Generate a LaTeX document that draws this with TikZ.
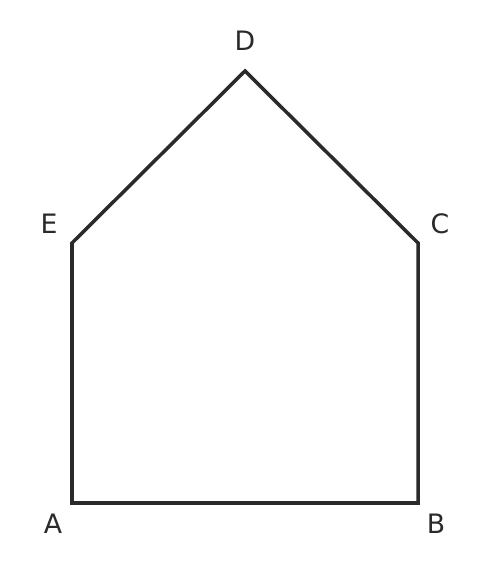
\documentclass[tikz,border=0pt]{standalone}
\usepackage{fontspec}
\setmainfont{DejaVu Sans}
\usepackage{xcolor}
\usepackage{tikz}
\definecolor{edgegray}{HTML}{2A2A2A}

\begin{document}
\begin{tikzpicture}[label/.style={text=edgegray, font=\fontsize{7.6}{9}\selectfont, inner sep=0pt}]
\useasboundingbox (0,0) rectangle (4.89,5.75);
\coordinate [] (A) at (0.72cm,0.72cm);
\coordinate [] (B) at (4.18cm,0.72cm);
\coordinate [] (C) at (4.18cm,3.32cm);
\coordinate [] (D) at (2.45cm,5.04cm);
\coordinate [] (E) at (0.72cm,3.32cm);
\draw[edgegray, line width=1.0pt] (A) -- (B) -- (C) -- (D) -- (E) -- cycle;
\node[label] (lA) at (0.53cm,0.51cm) {A};
\node[label] (lB) at (4.36cm,0.51cm) {B};
\node[label] (lC) at (4.40cm,3.51cm) {C};
\node[label] (lD) at (2.45cm,5.34cm) {D};
\node[label] (lE) at (0.49cm,3.51cm) {E};
\end{tikzpicture}
\end{document}
